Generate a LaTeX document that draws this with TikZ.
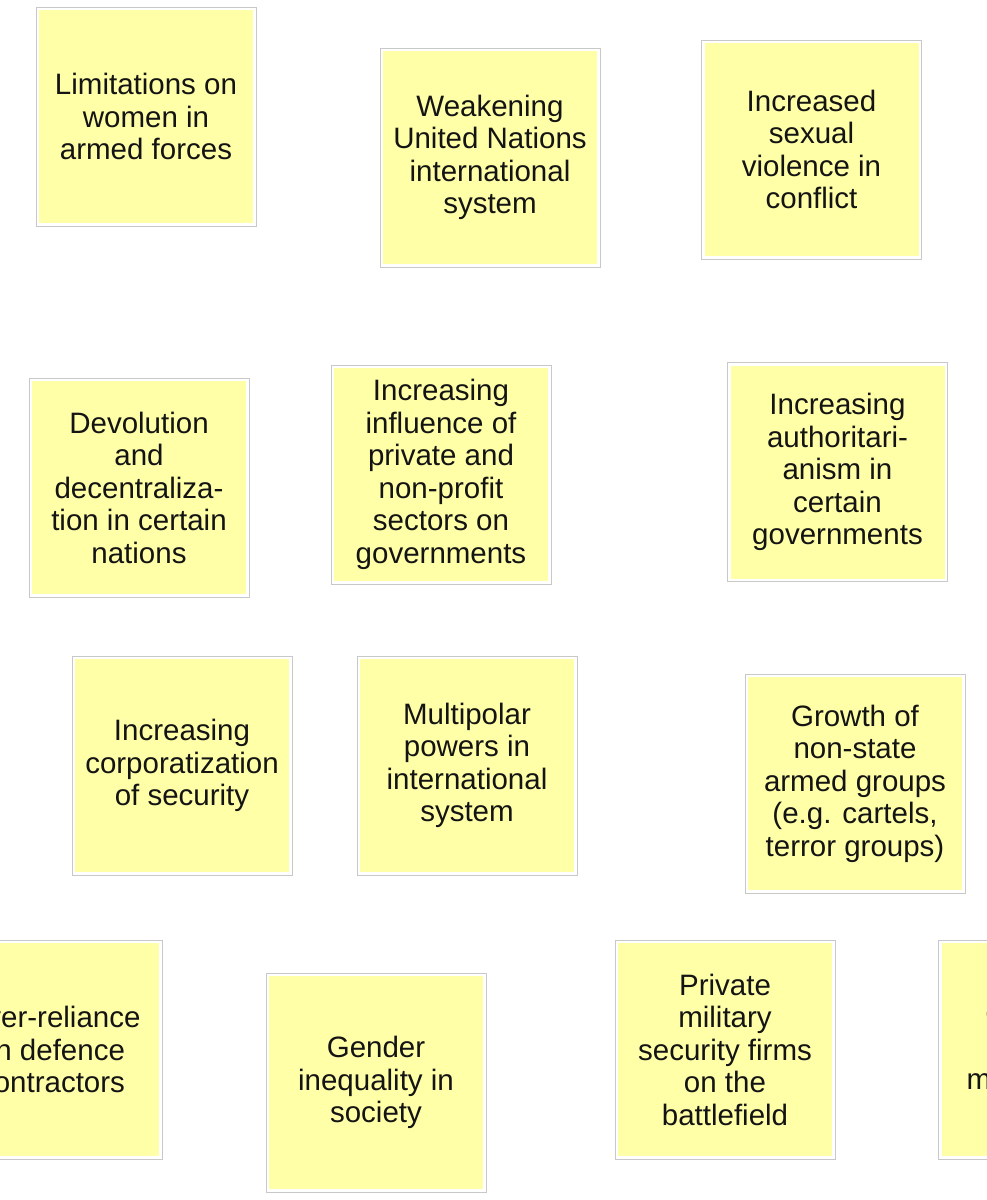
\documentclass[tikz,border=0pt]{standalone}
\usepackage{fontspec}
\setmainfont{Liberation Sans}
\definecolor{postit}{RGB}{255,255,168}
\definecolor{framegrey}{RGB}{200,200,200}
\definecolor{inkc}{RGB}{20,20,20}
\begin{document}
\begin{tikzpicture}[x=1pt,y=-1pt,
  note/.style={rectangle, fill=postit, draw=white, line width=3pt,
    minimum width=217pt, minimum height=216pt, inner sep=0pt,
    align=center, text=inkc,
    font=\fontsize{29.5pt}{32.5pt}\selectfont},
  frame/.style={draw=framegrey, line width=0.8pt}]
\path[use as bounding box, fill=white] (0,0) rectangle (987,1200);
\clip (0,0) rectangle (987,1200);

\node[note] (lim) at (146,116.5) {Limitations on\\women in\\armed forces};
\node[note] (un) at (490,157.5) {Weakening\\United Nations\\international\\system};
\node[note] (sex) at (811.5,149.5) {Increased\\sexual\\violence in\\conflict};
\node[note] (dev) at (139,487.5) {Devolution\\and\\decentraliza-\\tion in certain\\nations};
\node[note] (inf) at (441,474.5) {Increasing\\influence of\\private and\\non-profit\\sectors on\\governments};
\node[note] (auth) at (837.5,472) {Increasing\\authoritari-\\anism in\\certain\\governments};
\node[note] (corp) at (182,765.5) {Increasing\\corporatization\\of security};
\node[note] (multi) at (467,765.5) {Multipolar\\powers in\\international\\system};
\node[note] (grow) at (855,783.5) {Growth of\\non-state\\armed groups\\(e.g. cartels,\\terror groups)};
\node[note] (over) at (52,1049.5) {Over-reliance\\on defence\\contractors};
\node[note] (gen) at (376,1082.5) {Gender\\inequality in\\society};
\node[note] (pmsc) at (725,1049.5) {Private\\military\\security firms\\on the\\battlefield};
\node[note] (civ) at (1048.5,1049.5) {Global\\Changing\\role of\\militarization\\of police};

\foreach \n in {lim,un,sex,dev,inf,auth,corp,multi,grow,over,gen,pmsc,civ}
  \draw[frame] (\n.north west) rectangle (\n.south east);
\end{tikzpicture}
\end{document}
